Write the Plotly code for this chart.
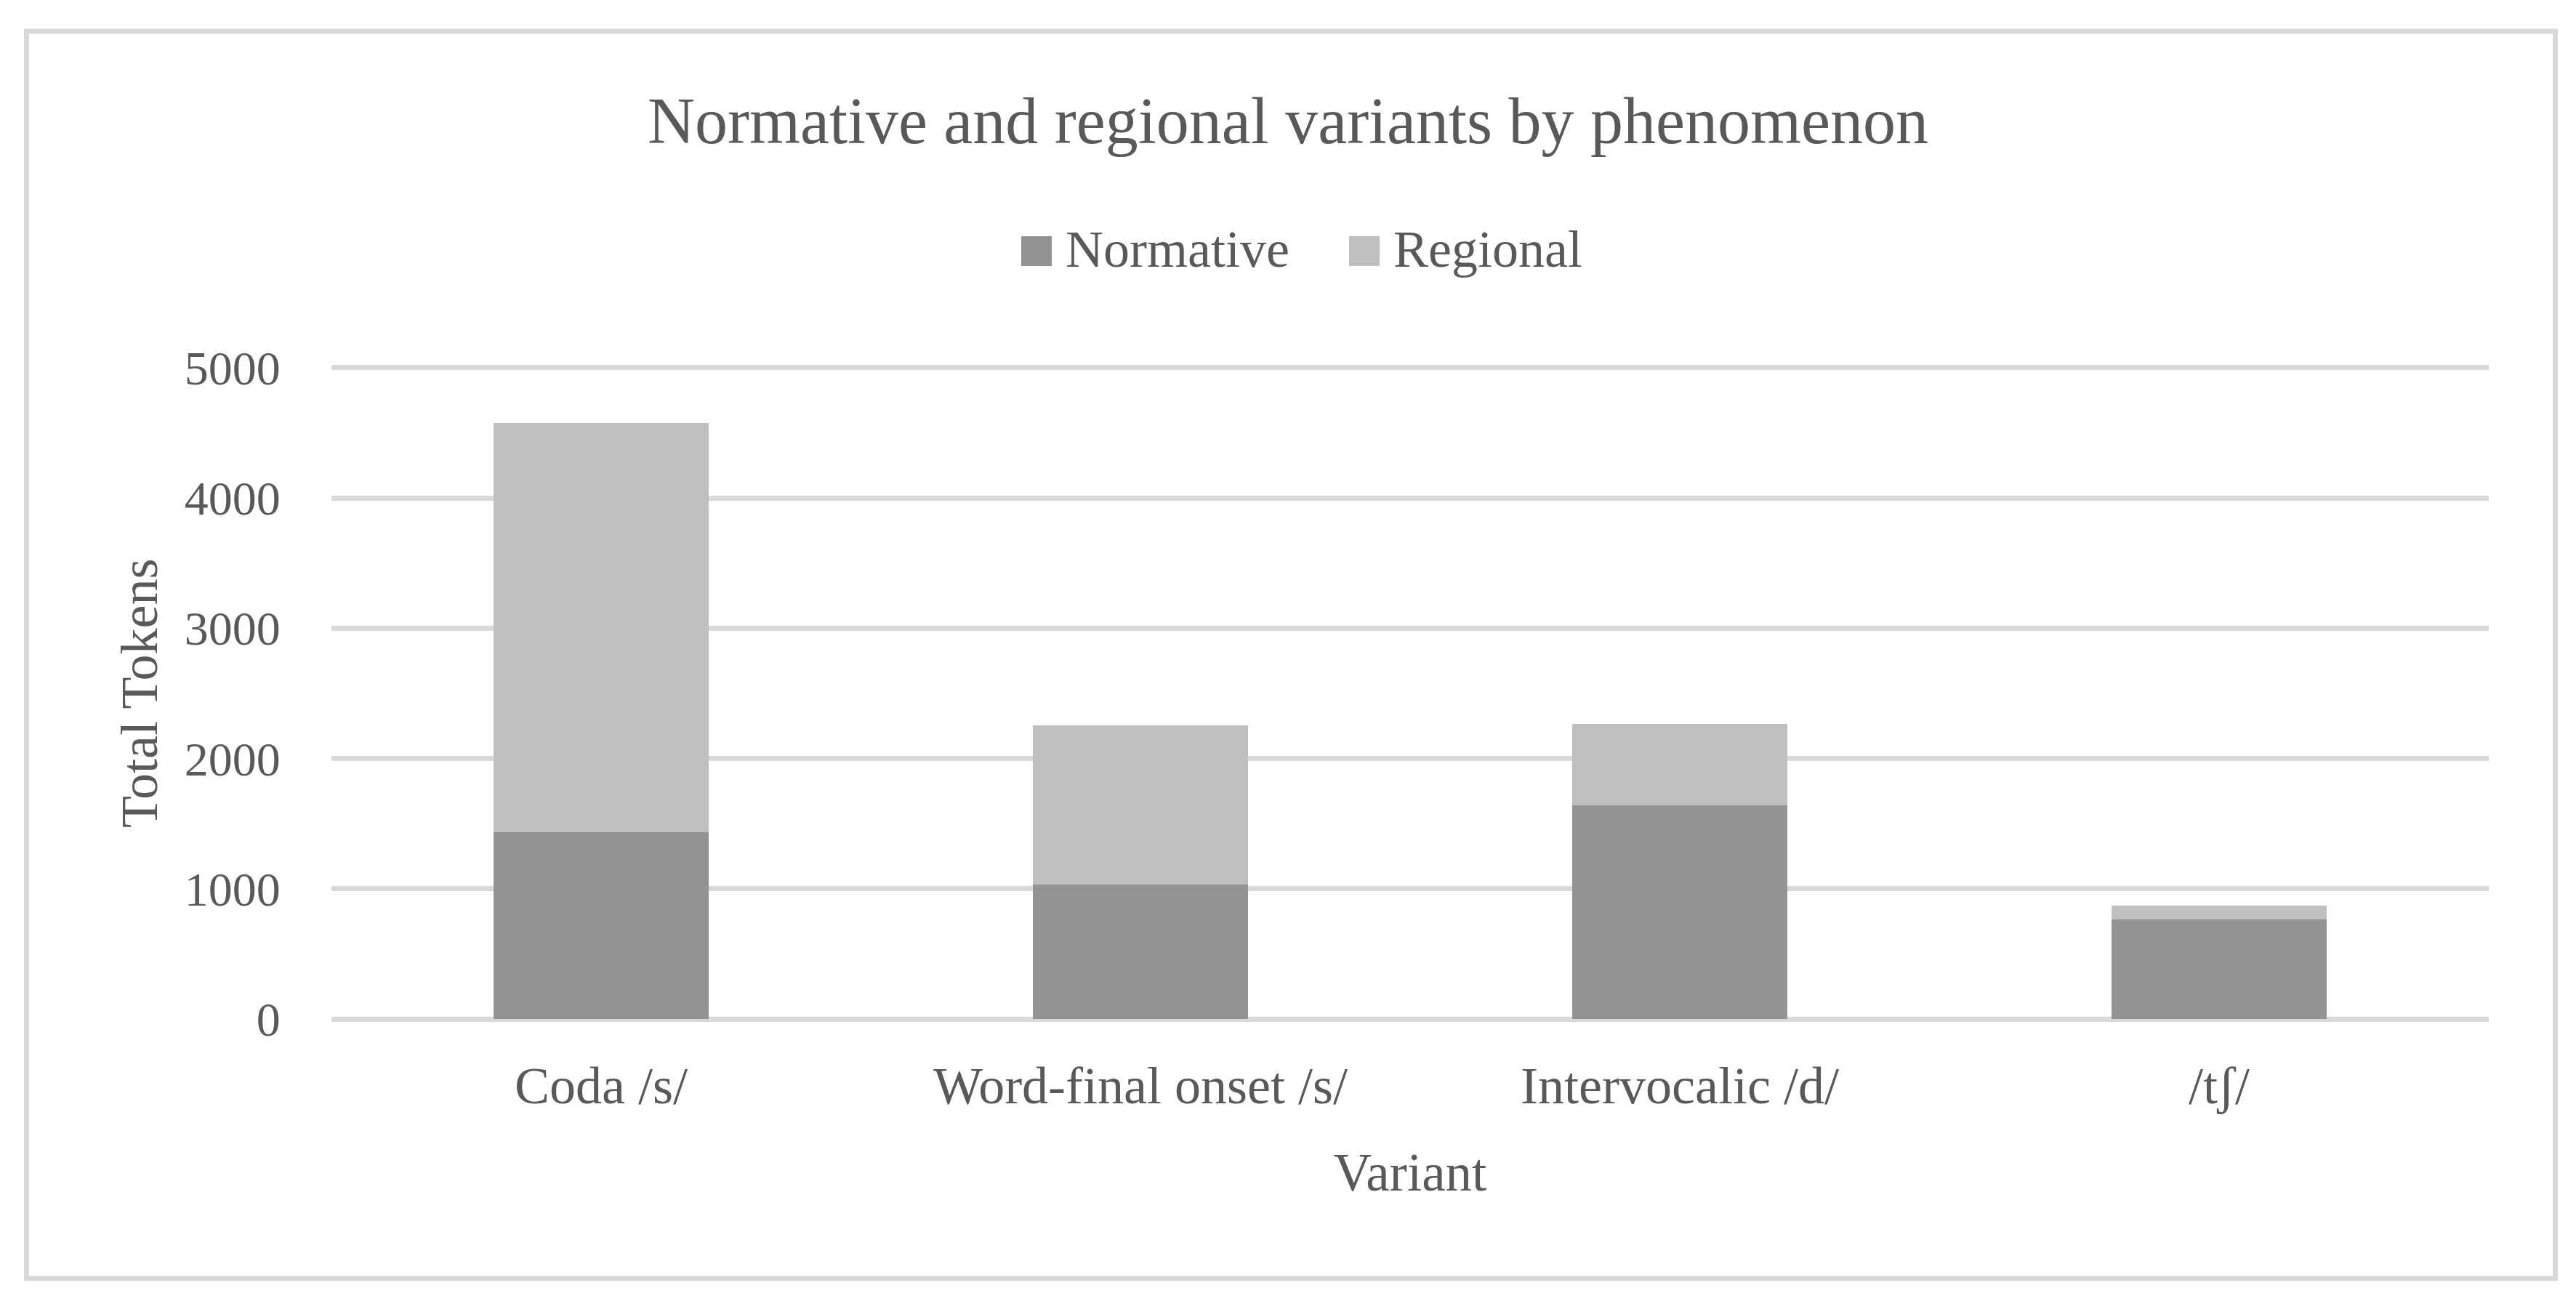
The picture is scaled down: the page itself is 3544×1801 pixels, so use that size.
import plotly.graph_objects as go

# ---- data ----
categories = ["Coda /s/", "Word-final onset /s/", "Intervocalic /d/", "/tʃ/"]
normative = [1434, 1034, 1643, 767]
regional = [3141, 1223, 624, 107]
series_names = ["Normative", "Regional"]
y_tick_vals = [0, 1000, 2000, 3000, 4000, 5000]
title_text = "Normative and regional variants by phenomenon"
x_title = "Variant"
y_title = "Total Tokens"

# ---- style ----
colors = ["#939393", "#bfbfbf"]
text_color = "#595959"
grid_color = "#d9d9d9"
FONT = "Liberation Serif"

OFF = 8  # page body margin offset
W, H = 3544 - OFF, 1801 - OFF
ML, MR, MT, MB = 456 - OFF, 120, 503 - OFF, 396
PW = W - ML - MR
PH = H - MT - MB


def px_x(px):  # page pixel -> paper
    return (px - OFF - ML) / PW


def px_y(py):
    return (H - MB - (py - OFF)) / PH


fig = go.Figure()
for name, vals, col in zip(series_names, [normative, regional], colors):
    fig.add_trace(go.Bar(x=categories, y=vals, name=name, marker_color=col,
                         marker_line_width=0, showlegend=False))

shapes = []
annotations = []
# chart border
shapes.append(dict(type="rect", xref="paper", yref="paper",
                   x0=px_x(36.5), x1=px_x(3515.5), y0=px_y(1759), y1=px_y(43),
                   line=dict(color=grid_color, width=7), fillcolor="rgba(0,0,0,0)",
                   layer="below"))
# custom legend
legend_pos = [(1405, 1464), (1856, 1915)]
for (sx, tx), name, col in zip(legend_pos, series_names, colors):
    shapes.append(dict(type="rect", xref="paper", yref="paper",
                       x0=px_x(sx), x1=px_x(sx + 42), y0=px_y(366), y1=px_y(325),
                       line=dict(width=0), fillcolor=col))
    annotations.append(dict(xref="paper", yref="paper", x=px_x(tx), y=px_y(342.5),
                            xanchor="left", yanchor="middle", showarrow=False,
                            text=name, font=dict(family=FONT, size=72, color=text_color)))
# y axis title
annotations.append(dict(xref="paper", yref="paper", x=px_x(192), y=0.5,
                        xanchor="center", yanchor="middle", textangle=-90,
                        showarrow=False, text=y_title,
                        font=dict(family=FONT, size=72, color=text_color)))

fig.update_layout(
    width=W, height=H,
    margin=dict(l=ML, r=MR, t=MT, b=MB, autoexpand=False),
    paper_bgcolor="white", plot_bgcolor="white",
    barmode="stack", bargap=0.6,
    title=dict(text=title_text, x=(1772 - OFF) / W, xanchor="center", xref="container",
               y=1 - (165 - OFF) / H, yanchor="middle", yref="container",
               font=dict(family=FONT, size=90, color=text_color)),
    shapes=shapes, annotations=annotations,
    showlegend=False,
    xaxis=dict(showgrid=False, zeroline=False, showline=False,
               ticks="outside", ticklen=26, tickcolor="rgba(0,0,0,0)",
               tickfont=dict(family=FONT, size=72, color=text_color),
               title=dict(text=x_title, standoff=53,
                          font=dict(family=FONT, size=73, color=text_color))),
    yaxis=dict(range=[-15, 5015], tickvals=y_tick_vals, tickformat="d",
               showgrid=True, gridcolor=grid_color, gridwidth=7,
               zeroline=True, zerolinecolor=grid_color, zerolinewidth=7,
               showline=False, ticks="outside", ticklen=56,
               tickcolor="rgba(0,0,0,0)",
               tickfont=dict(family=FONT, size=66, color=text_color)),
)

fig.write_html("out.html")
